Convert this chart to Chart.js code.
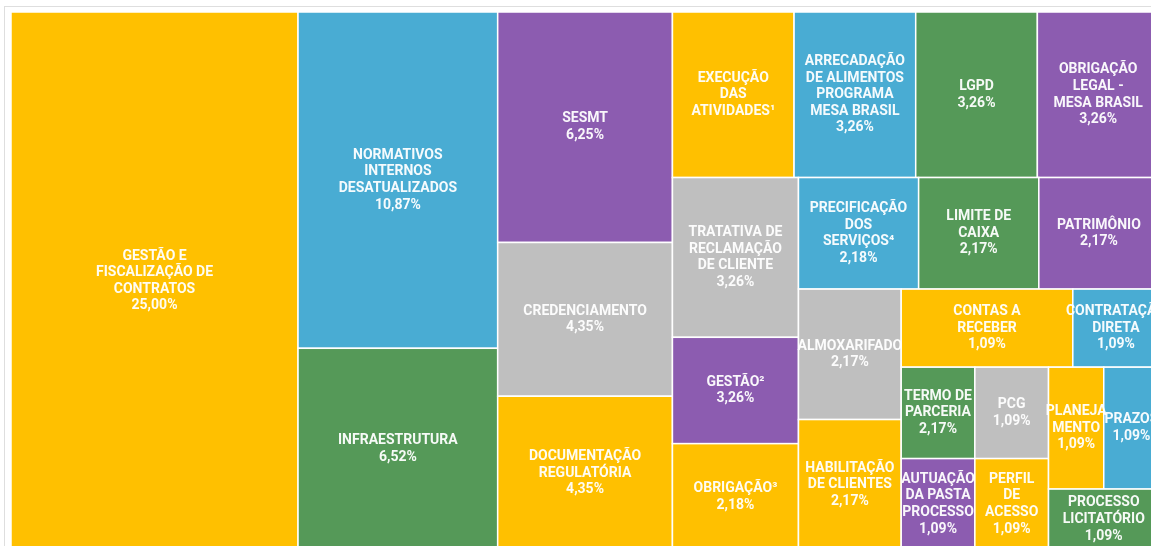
<!DOCTYPE html>
<html lang="pt-BR">
<head>
<meta charset="utf-8">
<title>Treemap de riscos</title>
<script src="https://cdn.jsdelivr.net/npm/chart.js@4.4.1/dist/chart.umd.min.js"></script>
<style>
  html, body { margin: 0; padding: 0; overflow: hidden; background: #fff; width: 1151px; height: 546px; }
  #moldura { position: absolute; left: 4px; top: 6px; width: 1200px; height: 600px;
             border-left: 1px solid #dedede; border-top: 1px solid #dedede; }
  #caixa { position: absolute; left: 0; top: 0; width: 1160px; height: 551px; }
</style>
</head>
<body>
<div id="moldura"></div>
<div id="caixa"><canvas id="chartRiscos"></canvas></div>
<script>
const categorias = [
  'GESTÃO E\nFISCALIZAÇÃO DE\nCONTRATOS',
  'NORMATIVOS\nINTERNOS\nDESATUALIZADOS',
  'INFRAESTRUTURA',
  'SESMT',
  'CREDENCIAMENTO',
  'DOCUMENTAÇÃO\nREGULATÓRIA',
  'EXECUÇÃO\nDAS\nATIVIDADES¹',
  'ARRECADAÇÃO\nDE ALIMENTOS\nPROGRAMA\nMESA BRASIL',
  'LGPD',
  'OBRIGAÇÃO\nLEGAL -\nMESA BRASIL',
  'TRATATIVA DE\nRECLAMAÇÃO\nDE CLIENTE',
  'GESTÃO²',
  'OBRIGAÇÃO³',
  'PRECIFICAÇÃO\nDOS\nSERVIÇOS⁴',
  'LIMITE DE\nCAIXA',
  'PATRIMÔNIO',
  'ALMOXARIFADO',
  'HABILITAÇÃO\nDE CLIENTES',
  'CONTAS A\nRECEBER',
  'CONTRATAÇÃO\nDIRETA',
  'TERMO DE\nPARCERIA',
  'AUTUAÇÃO\nDA PASTA\nPROCESSO',
  'PCG',
  'PERFIL\nDE\nACESSO',
  'PLANEJA\nMENTO',
  'PRAZOS',
  'PROCESSO\nLICITATÓRIO'
];

// tamanho de cada bloco (% da área)
const valores = [
  25.00, 10.87, 6.52, 6.52, 4.35, 4.35,
  3.26, 3.26, 3.26, 3.26, 3.26,
  2.17, 2.17, 2.17, 2.17, 2.17, 2.17, 2.17, 2.17,
  1.09, 1.09, 1.09, 1.09, 1.09, 1.09, 1.09, 1.09
];

// texto de percentual mostrado em cada bloco
const percentuais = [
  '25,00%', '10,87%', '6,52%', '6,25%', '4,35%', '4,35%',
  '', '3,26%', '3,26%', '3,26%', '3,26%',
  '3,26%', '2,18%', '2,18%', '2,17%', '2,17%', '2,17%', '2,17%', '1,09%',
  '1,09%', '2,17%', '1,09%', '1,09%', '1,09%', '1,09%', '1,09%', '1,09%'
];

const amarelo = '#FFC000', azul = '#49ACD3', verde = '#559958', roxo = '#8C5CB0', cinza = '#BFBFBF';
const cores = [
  amarelo, azul, verde, roxo, cinza, amarelo,
  amarelo, azul, verde, roxo, cinza,
  roxo, amarelo, azul, verde, roxo, cinza, amarelo, amarelo,
  azul, verde, roxo, cinza, amarelo, amarelo, azul, verde
];

// squarified: compara a proporção do último bloco adicionado à faixa
function squarify(vals, w, h, r) {
  const ordem = vals.map((v, i) => i).sort((a, b) => vals[b] - vals[a] || a - b);
  const total = vals.reduce((a, b) => a + b, 0);
  const k = w * h / total;
  const medida = (l, t) => Math.max(r * l / t, t / (r * l));
  const rects = [];
  let x0 = 0, y0 = 0, x1 = w, y1 = h, i = 0;
  while (i < ordem.length) {
    const linha = (x1 - x0) < (y1 - y0); // faixa no topo, senão coluna à esquerda
    const lado = linha ? x1 - x0 : y1 - y0;
    let s = vals[ordem[i]];
    let melhor = medida(lado, s * k / lado);
    let j = i + 1;
    while (j < ordem.length) {
      const v = vals[ordem[j]];
      const t = (s + v) * k / lado;
      const m = medida(v * k / t, t);
      if (m > melhor) break;
      melhor = m; s += v; j++;
    }
    const t = s * k / lado;
    let pos = linha ? x0 : y0;
    for (let q = i; q < j; q++) {
      const idx = ordem[q];
      const l = vals[idx] * k / t;
      rects[idx] = linha ? { x: pos, y: y0, w: l, h: t } : { x: x0, y: pos, w: t, h: l };
      pos += l;
    }
    if (linha) y0 += t; else x0 += t;
    i = j;
  }
  return rects;
}

const treemapPlugin = {
  id: 'treemap',
  afterDatasetsDraw(chart) {
    const { ctx, chartArea, scales } = chart;
    const W = chartArea.right - chartArea.left;
    const H = chartArea.bottom - chartArea.top;
    const blocos = squarify(valores, W, H, 1.13).map(c => {
      const x1 = scales.x.getPixelForValue(c.x / W * 100);
      const x2 = scales.x.getPixelForValue((c.x + c.w) / W * 100);
      const y1 = scales.y.getPixelForValue(c.y / H * 100);
      const y2 = scales.y.getPixelForValue((c.y + c.h) / H * 100);
      return { x: x1, y: y1, w: x2 - x1, h: y2 - y1 };
    });

    ctx.save();
    blocos.forEach((b, i) => {
      ctx.fillStyle = cores[i];
      ctx.fillRect(b.x, b.y, b.w, b.h);
      ctx.strokeStyle = '#ffffff';
      ctx.lineWidth = 1.5;
      ctx.strokeRect(b.x, b.y, b.w, b.h);
    });

    ctx.font = 'bold 14px Roboto';
    ctx.fillStyle = 'rgba(255,255,255,0.95)';
    ctx.textAlign = 'center';
    ctx.textBaseline = 'middle';
    const alturaLinha = 16.6;
    blocos.forEach((b, i) => {
      const linhas = categorias[i].split('\n');
      if (percentuais[i]) linhas.push(percentuais[i]);
      const cx = b.x + b.w / 2;
      const cy = b.y + b.h / 2;
      const inicio = cy - (linhas.length - 1) * alturaLinha / 2;
      linhas.forEach((txt, n) => ctx.fillText(txt, cx, inicio + n * alturaLinha));
    });
    ctx.restore();
  }
};

new Chart(document.getElementById('chartRiscos'), {
  type: 'scatter',
  data: { datasets: [{ data: [] }] },
  options: {
    responsive: true,
    maintainAspectRatio: false,
    animation: false,
    layout: { padding: { left: 11, top: 12, right: 1, bottom: 1 } },
    plugins: { legend: { display: false }, tooltip: { enabled: false } },
    scales: {
      x: { type: 'linear', min: 0, max: 100, display: false },
      y: { type: 'linear', min: 0, max: 100, reverse: true, display: false }
    }
  },
  plugins: [treemapPlugin]
});
</script>
</body>
</html>
